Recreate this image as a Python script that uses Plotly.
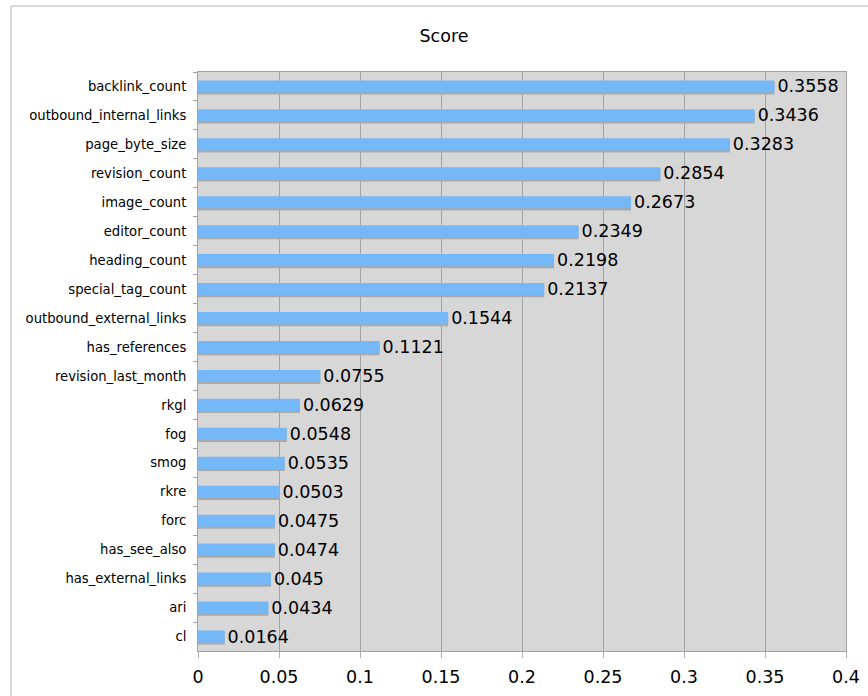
import plotly.graph_objects as go

features = ["backlink_count", "outbound_internal_links", "page_byte_size", "revision_count",
            "image_count", "editor_count", "heading_count", "special_tag_count",
            "outbound_external_links", "has_references", "revision_last_month", "rkgl",
            "fog", "smog", "rkre", "forc", "has_see_also", "has_external_links", "ari", "cl"]
scores = [0.3558, 0.3436, 0.3283, 0.2854, 0.2673, 0.2349, 0.2198, 0.2137, 0.1544, 0.1121,
          0.0755, 0.0629, 0.0548, 0.0535, 0.0503, 0.0475, 0.0474, 0.045, 0.0434, 0.0164]
labels = ["0.3558", "0.3436", "0.3283", "0.2854", "0.2673", "0.2349", "0.2198", "0.2137",
          "0.1544", "0.1121", "0.0755", "0.0629", "0.0548", "0.0535", "0.0503", "0.0475",
          "0.0474", "0.045", "0.0434", "0.0164"]
x_ticks = [0, 0.05, 0.1, 0.15, 0.2, 0.25, 0.3, 0.35, 0.4]
x_ticktext = ["0", "0.05", "0.1", "0.15", "0.2", "0.25", "0.3", "0.35", "0.4"]

FONT = "DejaVu Sans"
W, H = 868, 696
L, R, T, B = 198, 22, 72, 45
bw = 0.42

fig = go.Figure()
# shadow
fig.add_trace(go.Bar(
    y=features, x=scores, orientation="h", width=bw, offset=-bw / 2 + 0.07,
    marker=dict(color="#a9a9a9", line=dict(width=0)), hoverinfo="skip", showlegend=False,
))
fig.add_trace(go.Bar(
    y=features, x=scores, orientation="h", width=bw, offset=-bw / 2,
    marker=dict(color="#74b8f7", line=dict(width=0)),
    text=labels, textposition="outside", constraintext="none",
    textfont=dict(family=FONT, size=17.5, color="#000"),
    cliponaxis=False, showlegend=False,
))

pw = W - L - R
ph = H - T - B
fx = lambda px: (px - L) / pw
fy = lambda py: (H - B - py) / ph

fig.update_layout(
    width=W, height=H,
    margin=dict(l=L, r=R, t=T, b=B, autoexpand=False),
    barmode="overlay",
    uniformtext=dict(mode=False),
    paper_bgcolor="white",
    plot_bgcolor="#d7d7d7",
    font=dict(family=FONT, color="#000"),
    title=dict(text="Score", x=444 / W, xref="container", xanchor="center",
               y=1 - 36 / H, yref="container", yanchor="middle",
               font=dict(family=FONT, size=17.5, color="#000")),
    xaxis=dict(range=[0, 0.4], tickvals=x_ticks, ticktext=x_ticktext,
               showgrid=True, gridcolor="#a2a2a2", gridwidth=1,
               ticks="outside", ticklen=6, tickcolor="#b0b0b0",
               showline=True, linecolor="#a2a2a2", mirror=True, zeroline=False,
               ticklabelstandoff=4, automargin=False,
               tickfont=dict(family=FONT, size=17.5, color="#000")),
    yaxis=dict(autorange="reversed", categoryorder="array", categoryarray=features,
               showgrid=False, ticks="outside", ticklen=4, tickcolor="#a2a2a2",
               tickson="boundaries", showline=True, linecolor="#a2a2a2", mirror=True,
               ticklabelstandoff=8, automargin=False,
               tickfont=dict(family=FONT, size=13.2, color="#000")),
    shapes=[
        dict(type="line", xref="paper", yref="paper", x0=fx(11), x1=fx(11), y0=fy(720), y1=fy(6),
             line=dict(color="#b4b4b4", width=1)),
        dict(type="line", xref="paper", yref="paper", x0=fx(11), x1=fx(900), y0=fy(6), y1=fy(6),
             line=dict(color="#b4b4b4", width=1)),
    ],
)

fig.write_html("out.html")
